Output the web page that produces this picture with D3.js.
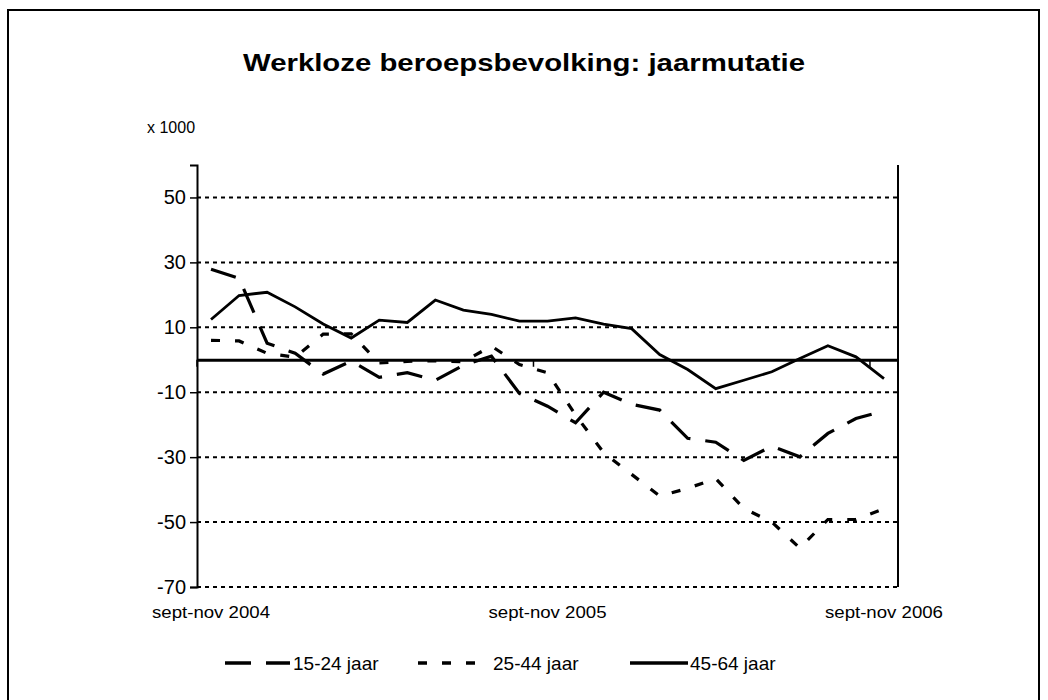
<!DOCTYPE html>
<html>
<head>
<meta charset="utf-8">
<script src="https://cdn.jsdelivr.net/npm/d3@7"></script>
<style>
  html, body { margin: 0; padding: 0; background: #fff; }
  svg text { font-family: "Liberation Sans", Arial, sans-serif; fill: #000; }
</style>
</head>
<body>
<svg id="chart" width="1048" height="700"></svg>
<script>
// ---- data ----
const categories = [
  "sept-nov 2004", "okt-dec 2004", "nov 2004-jan 2005", "dec 2004-feb 2005", "jan-mrt 2005",
  "feb-apr 2005", "mrt-mei 2005", "apr-jun 2005", "mei-jul 2005", "jun-aug 2005",
  "jul-sept 2005", "aug-okt 2005", "sept-nov 2005", "okt-dec 2005", "nov 2005-jan 2006",
  "dec 2005-feb 2006", "jan-mrt 2006", "feb-apr 2006", "mrt-mei 2006", "apr-jun 2006",
  "mei-jul 2006", "jun-aug 2006", "jul-sept 2006", "aug-okt 2006", "sept-nov 2006"
];
const tickLabels = ["sept-nov 2004", "sept-nov 2005", "sept-nov 2006"];
const yTicks = [50, 30, 10, -10, -30, -50, -70];
const seriesNames = ["15-24 jaar", "25-44 jaar", "45-64 jaar"];
const s1524 = [27.9, 25.1, 5.1, 2.0, -4.4, -0.4, -5.4, -4.0, -6.3, -1.7, 1.1, -10.4, -14.3,
               -19.4, -10.0, -13.7, -15.5, -24.2, -25.4, -31.0, -26.6, -29.9, -22.7, -18.1, -15.7];
const s2544 = [6.0, 5.8, 2.0, 0.8, 7.9, 8.0, -1.0, -0.5, -0.3, -0.6, 4.2, -1.5, -4.0,
               -17.0, -28.6, -35.3, -42.0, -39.6, -36.6, -45.8, -50.0, -58.0, -49.2, -49.2, -45.9];
const s4564 = [12.4, 19.8, 20.8, 16.3, 11.0, 6.7, 12.2, 11.5, 18.4, 15.3, 14.0, 11.9, 11.9,
               12.9, 11.0, 9.6, 1.6, -3.0, -8.9, -6.3, -3.7, 0.4, 4.3, 0.9, -5.8];

// ---- layout ----
const svg = d3.select("#chart");
const plot = { left: 197, right: 898, top: 165, bottom: 587 };

const x = d3.scaleBand().domain(categories).range([plot.left, plot.right]).padding(0);
const cx = d => x(d) + x.bandwidth() / 2;
const y = d3.scaleLinear().domain([-70, 60]).range([plot.bottom, plot.top]);

// outer border
svg.append("rect").attr("x", 8).attr("y", 10).attr("width", 1031).attr("height", 720)
  .attr("fill", "none").attr("stroke", "#000").attr("stroke-width", 2);

// title
svg.append("text").attr("x", 243).attr("y", 71)
  .attr("font-size", 24).attr("font-weight", "bold")
  .attr("textLength", 562).attr("lengthAdjust", "spacingAndGlyphs")
  .text("Werkloze beroepsbevolking: jaarmutatie");

svg.append("text").attr("x", 147).attr("y", 133).attr("font-size", 16).text("x 1000");

// gridlines
svg.append("g").selectAll("line").data(yTicks).join("line")
  .attr("x1", plot.left).attr("x2", plot.right)
  .attr("y1", d => y(d)).attr("y2", d => y(d))
  .attr("stroke", "#000").attr("stroke-width", 2).attr("stroke-dasharray", "4,4");

// right border
svg.append("line").attr("x1", plot.right).attr("x2", plot.right)
  .attr("y1", plot.top).attr("y2", plot.bottom).attr("stroke", "#000").attr("stroke-width", 2);

// y axis
const yAxis = d3.axisLeft(y).tickValues(yTicks).tickSize(7).tickPadding(4).tickFormat(d => String(d));
const gy = svg.append("g").attr("transform", `translate(${plot.left},0)`).call(yAxis);
gy.select(".domain").attr("stroke-width", 2);
gy.selectAll(".tick line").attr("stroke-width", 1.5);
gy.selectAll(".tick text").attr("font-size", 20).attr("font-family", "Liberation Sans, Arial, sans-serif")
  .attr("fill", "#000");

// zero line as category axis
const xAxis = d3.axisBottom(x).tickValues([]).tickSize(0);
const gx = svg.append("g").attr("transform", `translate(0,${y(0)})`).call(xAxis);
gx.select(".domain").attr("stroke-width", 3);
// axis tick marks every 12 categories at boundaries
const bIdx = [0, 12, 24];
svg.append("g").selectAll("line").data(bIdx).join("line")
  .attr("x1", i => x(categories[i])).attr("x2", i => x(categories[i]))
  .attr("y1", y(0)).attr("y2", y(0) + 7).attr("stroke", "#000").attr("stroke-width", 1.5);

// x labels at bottom
svg.append("g").selectAll("text").data(tickLabels).join("text")
  .attr("x", d => cx(d) - 59).attr("y", 618)
  .attr("font-size", 16).attr("textLength", 118).attr("lengthAdjust", "spacingAndGlyphs")
  .text(d => d);

// series
const line = d3.line().x((d, i) => cx(categories[i])).y(d => y(d));
const styles = [
  { data: s1524, dash: "26,15", w: 3.2 },
  { data: s2544, dash: "9,15", w: 3.2 },
  { data: s4564, dash: null, w: 2.8 }
];
styles.forEach(s => {
  svg.append("path").datum(s.data).attr("d", line)
    .attr("fill", "none").attr("stroke", "#000").attr("stroke-width", s.w)
    .attr("stroke-dasharray", s.dash).attr("stroke-linejoin", "miter");
});

// legend
const legendPos = [
  { x1: 225, x2: 290, tx: 293 },
  { x1: 418, x2: 490, tx: 493 },
  { x1: 630, x2: 688, tx: 690 }
];
const lg = svg.append("g");
seriesNames.forEach((name, i) => {
  const p = legendPos[i];
  lg.append("line").attr("x1", p.x1).attr("x2", p.x2).attr("y1", 663).attr("y2", 663)
    .attr("stroke", "#000").attr("stroke-width", styles[i].w + 0.5)
    .attr("stroke-dasharray", styles[i].dash);
  lg.append("text").attr("x", p.tx).attr("y", 670).attr("font-size", 19).text(name);
});
</script>
</body>
</html>
